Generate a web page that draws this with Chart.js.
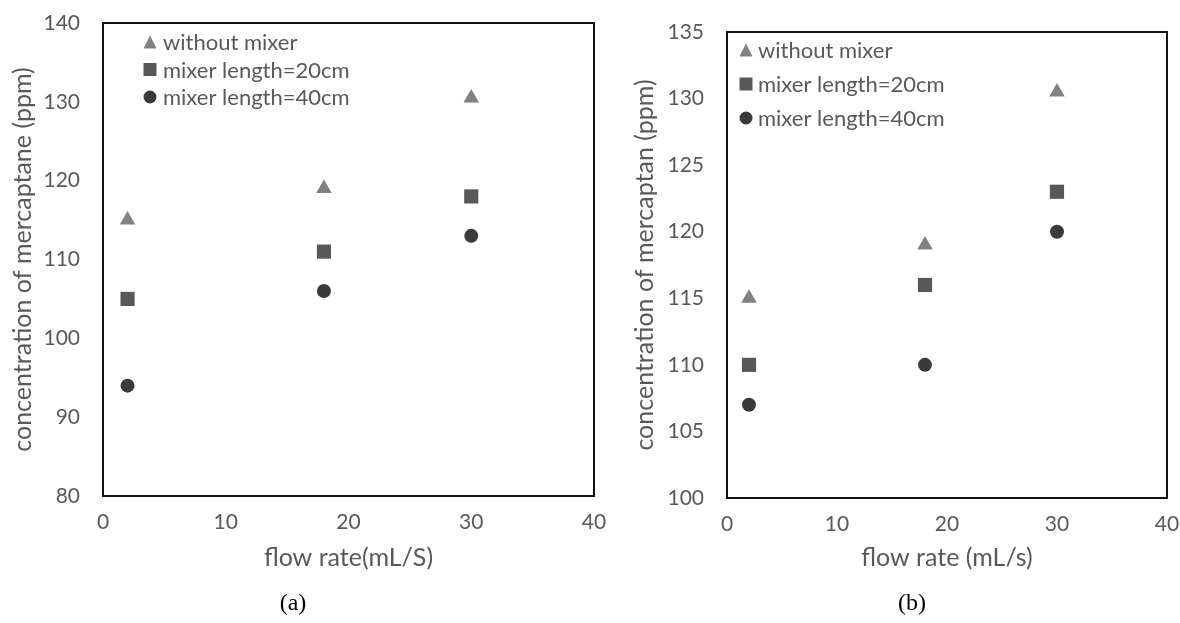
<!DOCTYPE html>
<html><head><meta charset="utf-8">
<script src="https://cdn.jsdelivr.net/npm/chart.js@4.4.1/dist/chart.umd.min.js"></script>
<style>
html,body{margin:0;padding:0;background:#fff;}
body{width:1180px;height:623px;position:relative;overflow:hidden;font-family:Lato,sans-serif;}
canvas{position:absolute;top:0;}
#ca{left:0;}
#cb{left:615px;}
.cap{position:absolute;font-family:"Liberation Serif","Times New Roman",serif;font-size:24px;color:#000;transform:translate(-50%,-50%);top:602px;white-space:nowrap;}
</style></head>
<body>
<canvas id="ca" width="615" height="600"></canvas>
<canvas id="cb" width="565" height="600"></canvas>
<div class="cap" style="left:293px">(a)</div>
<div class="cap" style="left:912px">(b)</div>
<script>
// ---- data ----
const flowRates = [2, 18, 30];
const seriesNames = ['without mixer', 'mixer length=20cm', 'mixer length=40cm'];
const aWithoutMixer = [115, 119, 130.5];
const aMixer20 = [105, 111, 118];
const aMixer40 = [94, 106, 113];
const bWithoutMixer = [115, 119, 130.5];
const bMixer20 = [110, 116, 123];
const bMixer40 = [107, 110, 120];
const xTicks = [0, 10, 20, 30, 40];
const yTicksA = [80, 90, 100, 110, 120, 130, 140];
const yTicksB = [100, 105, 110, 115, 120, 125, 130, 135];
const xTitleA = 'flow rate(mL/S)';
const xTitleB = 'flow rate (mL/s)';
const yTitleA = 'concentration of mercaptane (ppm)';
const yTitleB = 'concentration of mercaptan (ppm)';

// ---- styles ----
const TXT = '#595959';
const styles = [
  {pointStyle: 'triangle', color: '#828282', radius: 9},
  {pointStyle: 'rect', color: '#585858', radius: 10},
  {pointStyle: 'circle', color: '#3a3a3a', radius: 7}
];

function toPoints(xs, ys) { return xs.map((x, i) => ({x: x, y: ys[i]})); }

function makeDatasets(series) {
  return series.map((vals, i) => ({
    label: seriesNames[i],
    data: toPoints(flowRates, vals),
    pointStyle: styles[i].pointStyle,
    backgroundColor: styles[i].color,
    borderColor: styles[i].color,
    borderWidth: 0,
    pointRadius: styles[i].radius,
    pointHoverRadius: styles[i].radius,
    showLine: false
  }));
}

function drawMarker(ctx, style, x, y, s, color) {
  ctx.fillStyle = color;
  ctx.beginPath();
  if (style === 'triangle') {
    ctx.moveTo(x, y - s / 2);
    ctx.lineTo(x + s / 2, y + s / 2);
    ctx.lineTo(x - s / 2, y + s / 2);
    ctx.closePath();
  } else if (style === 'rect') {
    ctx.rect(x - s / 2, y - s / 2, s, s);
  } else {
    ctx.arc(x, y, s / 2, 0, Math.PI * 2);
  }
  ctx.fill();
}

const frame = {
  id: 'frame',
  afterDraw(chart) {
    const ca = chart.chartArea, ctx = chart.ctx;
    ctx.save();
    ctx.strokeStyle = '#111';
    ctx.lineWidth = 2;
    ctx.strokeRect(ca.left, ca.top, ca.right - ca.left, ca.bottom - ca.top);
    ctx.restore();
  }
};

const insideLegend = {
  id: 'insideLegend',
  afterDraw(chart, args, opts) {
    const ctx = chart.ctx, ca = chart.chartArea;
    ctx.save();
    ctx.font = opts.font;
    ctx.textBaseline = 'middle';
    ctx.textAlign = 'left';
    chart.data.datasets.forEach((ds, i) => {
      const y = ca.top + opts.firstRow + i * opts.rowGap;
      drawMarker(ctx, ds.pointStyle, ca.left + opts.markerX, y, opts.markerSize, ds.backgroundColor);
      ctx.fillStyle = opts.color;
      ctx.fillText(ds.label, ca.left + opts.textX, y + 1);
    });
    ctx.restore();
  }
};

function makeChart(id, series, yTicks, xTitle, yTitle, layout, legendOpts) {
  return new Chart(document.getElementById(id), {
    type: 'scatter',
    data: {datasets: makeDatasets(series)},
    plugins: [frame, insideLegend],
    options: {
      responsive: false,
      animation: false,
      events: [],
      layout: {padding: layout.padding},
      plugins: {
        legend: {display: false},
        tooltip: {enabled: false},
        insideLegend: legendOpts
      },
      scales: {
        x: {
          type: 'linear',
          min: xTicks[0], max: xTicks[xTicks.length - 1],
          afterBuildTicks: (s) => { s.ticks = xTicks.map(v => ({value: v})); },
          afterFit: (s) => { s.height = layout.xHeight; s.paddingLeft = 0; s.paddingRight = 0; },
          grid: {display: false, drawTicks: false},
          border: {display: false},
          ticks: {color: TXT, font: {family: 'Lato', size: 21}, padding: 14, maxRotation: 0},
          title: {display: true, text: xTitle, color: TXT, font: {family: 'Lato', size: 25}, padding: 0}
        },
        y: {
          type: 'linear',
          min: yTicks[0], max: yTicks[yTicks.length - 1],
          afterBuildTicks: (s) => { s.ticks = yTicks.map(v => ({value: v})); },
          afterFit: (s) => { s.width = layout.yWidth; s.paddingTop = 0; s.paddingBottom = 0; },
          grid: {display: false, drawTicks: false},
          border: {display: false},
          ticks: {color: TXT, font: {family: 'Lato', size: 21}, padding: 23},
          title: {display: true, text: yTitle, color: TXT, font: {family: 'Lato', size: 25}, padding: 0}
        }
      }
    }
  });
}

makeChart('ca', [aWithoutMixer, aMixer20, aMixer40], yTicksA, xTitleA, yTitleA,
  {padding: {left: 8, top: 23, right: 21, bottom: 27}, yWidth: 95, xHeight: 77},
  {font: '22px Lato', color: TXT, markerX: 47, textX: 60, firstRow: 19, rowGap: 27.5, markerSize: 13});

makeChart('cb', [bWithoutMixer, bMixer20, bMixer40], yTicksB, xTitleB, yTitleB,
  {padding: {left: 15, top: 32, right: 13, bottom: 27}, yWidth: 97, xHeight: 75},
  {font: '22px Lato', color: TXT, markerX: 19, textX: 31, firstRow: 18, rowGap: 34, markerSize: 13});
</script>
</body></html>
